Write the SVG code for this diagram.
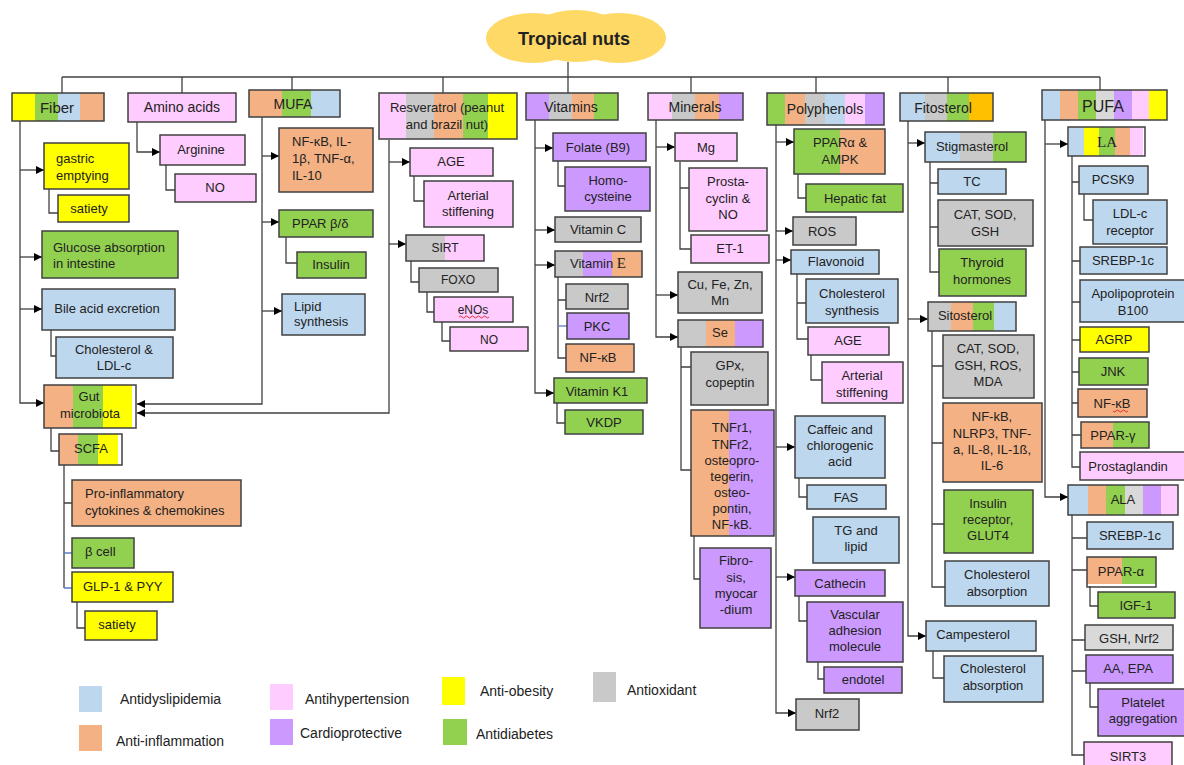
<svg xmlns="http://www.w3.org/2000/svg" width="1184" height="765" viewBox="0 0 1184 765">
<style>
text{font-family:"Liberation Sans",Arial,sans-serif;font-size:13px;fill:#222}
.c{text-anchor:middle}
.cat{font-size:14px}
.sm{font-size:12px}
.lg{font-size:14px}
.bx{stroke:#404040;stroke-width:1.5}
.fr{fill:none;stroke:#404040;stroke-width:1.5}
.B{fill:#BDD7EE}.O{fill:#F4B183}.P{fill:#FFCCFF}.V{fill:#CC99FF}.Y{fill:#FFFF00}.G{fill:#92D050}.X{fill:#C9C9C9}.K{fill:#FFC000}.L{fill:#D9D9D9}
.cn path{fill:none;stroke:#404040;stroke-width:1.3}
.cn path.a{marker-end:url(#ah)}
.cn path.bl{stroke:#5B7FC7}
.sq{fill:none;stroke:#E02020;stroke-width:0.9}
</style>
<defs>
<marker id="ah" viewBox="0 0 10 10" refX="10" refY="5" markerWidth="9" markerHeight="8" markerUnits="userSpaceOnUse" orient="auto"><path d="M0 0L10 5L0 10z" fill="#000"/></marker>
</defs>
<rect width="1184" height="765" fill="#fff"/>

<g id="root">
<ellipse cx="533" cy="38" rx="47" ry="25" fill="#FFD966"/>
<ellipse cx="619" cy="38" rx="47" ry="25" fill="#FFD966"/>
<ellipse cx="576" cy="36" rx="48" ry="26" fill="#FFD966"/>
<text x="574" y="45" class="c" style="font-size:18px;font-weight:bold">Tropical nuts</text>
</g>

<g id="connectors" class="cn">
<path d="M568 62V93"/>
<path d="M62 77H1100"/>
<path d="M62 77V93M182 77V93M292 77V90M443 77V93M691 77V93M816 77V93M948 77V93M1100 77V90"/>
<path class="a" d="M20 121V403H44"/>
<path class="a" d="M20 170H44"/>
<path class="a" d="M20 257H42"/>
<path class="a" d="M20 309H42"/>
<path d="M49 189V213H58"/>
<path d="M51 330V356H56"/>
<path d="M51 428V451H59"/>
<path d="M64 465V588M64 503H72"/>
<path class="bl" d="M64 553H72M64 588H72"/>
<path d="M77 602V628H85"/>
<path class="a" d="M262 117V404H137"/>
<path class="a" d="M262 156H279"/>
<path class="a" d="M262 222H279"/>
<path class="a" d="M262 311H282"/>
<path class="a" d="M389 140V413H137"/>
<path class="a" d="M389 162H410"/>
<path class="a" d="M389 244H406"/>
<path class="a" d="M137 122V152H160"/>
<path d="M166 165V190H175"/>
<path d="M286 237V263H297"/>
<path d="M414 176V201H424"/>
<path d="M411 261V282H419"/>
<path d="M427 292V312H434"/>
<path d="M442 322V341H450"/>
<path class="a" d="M535 120V393H554"/>
<path class="a" d="M535 148H553"/>
<path class="a" d="M535 230H555"/>
<path class="a" d="M535 265H555"/>
<path d="M558 161V186H565"/>
<path d="M558 277V358H566M558 300H566"/>
<path class="bl" d="M558 326H567"/>
<path d="M557 403V423H565"/>
<path class="a" d="M656 120V337H678"/>
<path class="a" d="M656 147H675"/>
<path class="a" d="M656 295H678"/>
<path d="M680 162V249H691M680 188H689"/>
<path d="M681 347V470H691M681 367H691"/>
<path d="M694 536V579H700"/>
<path class="a" d="M776 125V713H796"/>
<path class="a" d="M776 142H794"/>
<path class="a" d="M776 231H793"/>
<path class="a" d="M776 260H791"/>
<path class="a" d="M776 447H795"/>
<path class="a" d="M776 577H795"/>
<path d="M798 174V198H806"/>
<path d="M797 274V339H808M797 303H806"/>
<path d="M811 355V380H822"/>
<path d="M799 478V497H807"/>
<path d="M799 596V621H807"/>
<path d="M818 662V679H824"/>
<path class="a" d="M908 121V636H926"/>
<path class="a" d="M908 143H925"/>
<path class="a" d="M908 319H928"/>
<path d="M930 162V272H939M930 183H938M930 227H938"/>
<path d="M932 331V587H945M932 366H943M932 443H943M932 524H944"/>
<path d="M933 651V678H944"/>
<path class="a" d="M1045 120V497H1068"/>
<path class="a" d="M1045 144H1068"/>
<path d="M1072 156V467H1080M1072 182H1079M1072 261H1080M1072 302H1080M1072 340H1080M1072 372H1079M1072 403H1078M1072 435H1081"/>
<path d="M1084 194V220H1093"/>
<path d="M1072 515V755H1084M1072 538H1087M1072 570H1087M1072 640H1085M1072 671H1086"/>
<path d="M1090 586V606H1098"/>
<path d="M1090 683V707H1098"/>
</g>

<!-- Fiber -->
<g id="fiber"><rect x="12" y="93" width="23" height="28" class="Y"/><rect x="35" y="93" width="23" height="28" class="G"/><rect x="58" y="93" width="22" height="28" class="B"/><rect x="80" y="93" width="24" height="28" class="O"/><rect x="12" y="93" width="92" height="28" class="fr"/><text x="57" y="113" class="c" style="font-size:15px">Fiber</text></g>
<g id="gastric"><rect x="44" y="143" width="85" height="46" class="bx Y"/><text x="56" y="163">gastric</text><text x="56" y="180">emptying</text></g>
<g id="satiety1"><rect x="58" y="195" width="71" height="27" class="bx Y"/><text x="89" y="213" class="c">satiety</text></g>
<g id="glucose"><rect x="42" y="231" width="136" height="47" class="bx G"/><text x="53" y="252">Glucose absorption</text><text x="53" y="268">in intestine</text></g>
<g id="bile"><rect x="42" y="289" width="133" height="41" class="bx B"/><text x="107" y="313" class="c">Bile acid excretion</text></g>
<g id="chol-ldl"><rect x="56" y="337" width="117" height="41" class="bx B"/><text x="114" y="354" class="c">Cholesterol &amp;</text><text x="114" y="370" class="c">LDL-c</text></g>
<g id="gut"><rect x="44" y="385" width="29" height="43" class="O"/><rect x="73" y="385" width="30" height="43" class="G"/><rect x="103" y="385" width="29" height="43" class="Y"/><rect x="44" y="385" width="92" height="43" class="fr"/><text x="89" y="401" class="c">Gut</text><text x="90" y="418" class="c">microbiota</text></g>
<g id="scfa"><rect x="59" y="434" width="19" height="31" class="O"/><rect x="78" y="434" width="20" height="31" class="G"/><rect x="98" y="434" width="20" height="31" class="Y"/><rect x="59" y="434" width="63" height="31" class="fr"/><text x="91" y="453" class="c">SCFA</text></g>
<g id="proinfl"><rect x="72" y="480" width="169" height="46" class="bx O"/><text x="85" y="498">Pro-inflammatory</text><text x="85" y="515">cytokines &amp; chemokines</text></g>
<g id="bcell"><rect x="72" y="538" width="62" height="30" class="bx G"/><text x="85" y="556">β cell</text></g>
<g id="glp"><rect x="72" y="572" width="101" height="30" class="bx Y"/><text x="83" y="591">GLP-1 &amp; PYY</text></g>
<g id="satiety2"><rect x="85" y="611" width="72" height="29" class="bx Y"/><text x="117" y="629" class="c">satiety</text></g>

<!-- Amino acids -->
<g id="amino"><rect x="128" y="93" width="108" height="29" class="bx P"/><text x="182" y="112" class="c cat">Amino acids</text></g>
<g id="arginine"><rect x="160" y="135" width="85" height="30" class="bx P"/><text x="201" y="154" class="c">Arginine</text></g>
<g id="no1"><rect x="175" y="174" width="81" height="28" class="bx P"/><text x="215" y="192" class="c">NO</text></g>

<!-- MUFA -->
<g id="mufa"><rect x="249" y="90" width="33" height="27" class="O"/><rect x="282" y="90" width="29" height="27" class="G"/><rect x="311" y="90" width="29" height="27" class="B"/><rect x="249" y="90" width="91" height="27" class="fr"/><text x="293" y="109" class="c cat">MUFA</text></g>
<g id="nfkb1"><rect x="279" y="128" width="94" height="64" class="bx O"/><text x="292" y="146">NF-κB, IL-</text><text x="292" y="163">1β, TNF-α,</text><text x="292" y="180">IL-10</text></g>
<g id="pparbd"><rect x="279" y="210" width="94" height="27" class="bx G"/><text x="292" y="228">PPAR β/δ</text></g>
<g id="insulin1"><rect x="297" y="252" width="69" height="26" class="bx G"/><text x="331" y="269" class="c">Insulin</text></g>
<g id="lipid"><rect x="282" y="294" width="83" height="41" class="bx B"/><text x="294" y="311">Lipid</text><text x="294" y="326">synthesis</text></g>

<!-- Resveratrol -->
<g id="resveratrol"><rect x="379" y="93" width="27" height="46" class="P"/><rect x="406" y="93" width="28" height="46" class="X"/><rect x="434" y="93" width="29" height="46" class="O"/><rect x="463" y="93" width="25" height="46" class="G"/><rect x="488" y="93" width="29" height="46" class="Y"/><rect x="379" y="93" width="138" height="46" class="fr"/><text x="447" y="112" class="c">Resveratrol (peanut</text><text x="447" y="129" class="c">and brazil nut)</text></g>
<g id="age1"><rect x="410" y="148" width="83" height="28" class="bx P"/><text x="451" y="166" class="c">AGE</text></g>
<g id="arterial1"><rect x="424" y="181" width="89" height="46" class="bx P"/><text x="468" y="200" class="c">Arterial</text><text x="468" y="216" class="c">stiffening</text></g>
<g id="sirt"><rect x="406" y="235" width="39" height="26" class="X"/><rect x="445" y="235" width="39" height="26" class="P"/><rect x="406" y="235" width="78" height="26" class="fr"/><text x="445" y="252" class="c sm">SIRT</text></g>
<g id="foxo"><rect x="419" y="268" width="79" height="24" class="bx X"/><text x="458" y="284" class="c sm">FOXO</text></g>
<g id="enos"><rect x="434" y="297" width="79" height="25" class="bx P"/><text x="473" y="314" class="c sm">eNOs</text><path class="sq" d="M459 317q1.5 -2 3 0t3 0t3 0t3 0t3 0t3 0t3 0t3 0t3 0t3 0"/></g>
<g id="no2"><rect x="450" y="327" width="78" height="24" class="bx P"/><text x="489" y="344" class="c sm">NO</text></g>

<!-- Vitamins -->
<g id="vitamins"><rect x="526" y="93" width="23" height="27" class="V"/><rect x="549" y="93" width="23" height="27" class="X"/><rect x="572" y="93" width="22" height="27" class="O"/><rect x="594" y="93" width="24" height="27" class="G"/><rect x="526" y="93" width="92" height="27" class="fr"/><text x="571" y="112" class="c cat">Vitamins</text></g>
<g id="folate"><rect x="553" y="133" width="93" height="28" class="bx V"/><text x="598" y="152" class="c">Folate (B9)</text></g>
<g id="homocysteine"><rect x="565" y="167" width="85" height="44" class="bx V"/><text x="608" y="185" class="c">Homo-</text><text x="608" y="201" class="c">cysteine</text></g>
<g id="vitc"><rect x="555" y="217" width="86" height="25" class="bx X"/><text x="598" y="234" class="c">Vitamin C</text></g>
<g id="vite"><rect x="555" y="251" width="28" height="26" class="X"/><rect x="583" y="251" width="29" height="26" class="V"/><rect x="612" y="251" width="30" height="26" class="O"/><rect x="555" y="251" width="87" height="26" class="fr"/><text x="598" y="268" class="c">Vitamin <tspan style="font-family:'Liberation Serif',serif;font-size:15px">E</tspan></text></g>
<g id="nrf2a"><rect x="566" y="284" width="62" height="25" class="bx X"/><text x="597" y="302" class="c">Nrf2</text></g>
<g id="pkc"><rect x="567" y="313" width="62" height="26" class="bx V"/><text x="597" y="331" class="c">PKC</text></g>
<g id="nfkb2"><rect x="566" y="344" width="68" height="28" class="bx O"/><text x="598" y="362" class="c">NF-κB</text></g>
<g id="vitk"><rect x="554" y="378" width="93" height="25" class="bx G"/><text x="597" y="396" class="c">Vitamin K1</text></g>
<g id="vkdp"><rect x="565" y="410" width="78" height="24" class="bx G"/><text x="604" y="427" class="c">VKDP</text></g>

<!-- Minerals -->
<g id="minerals"><rect x="648" y="93" width="24" height="27" class="P"/><rect x="672" y="93" width="23" height="27" class="X"/><rect x="695" y="93" width="24" height="27" class="O"/><rect x="719" y="93" width="24" height="27" class="V"/><rect x="648" y="93" width="95" height="27" class="fr"/><text x="695" y="112" class="c cat">Minerals</text></g>
<g id="mg"><rect x="675" y="133" width="62" height="28" class="bx P"/><text x="706" y="152" class="c">Mg</text></g>
<g id="prostacyclin"><rect x="689" y="168" width="78" height="63" class="bx P"/><text x="728" y="186" class="c">Prosta-</text><text x="728" y="203" class="c">cyclin &amp;</text><text x="728" y="219" class="c">NO</text></g>
<g id="et1"><rect x="691" y="235" width="78" height="28" class="bx P"/><text x="730" y="253" class="c">ET-1</text></g>
<g id="cufe"><rect x="678" y="272" width="84" height="41" class="bx X"/><text x="720" y="289" class="c">Cu, Fe, Zn,</text><text x="720" y="305" class="c">Mn</text></g>
<g id="se"><rect x="678" y="320" width="28" height="27" class="X"/><rect x="706" y="320" width="29" height="27" class="O"/><rect x="735" y="320" width="28" height="27" class="V"/><rect x="678" y="320" width="85" height="27" class="fr"/><text x="720" y="337" class="c">Se</text></g>
<g id="gpx"><rect x="691" y="352" width="77" height="53" class="bx X"/><text x="730" y="370" class="c">GPx,</text><text x="730" y="387" class="c">copeptin</text></g>
<g id="tnfr"><rect x="691" y="410" width="38" height="126" class="O"/><rect x="729" y="410" width="45" height="126" class="V"/><rect x="691" y="410" width="83" height="126" class="fr"/><text x="732" y="432" class="c">TNFr1,</text><text x="732" y="449" class="c">TNFr2,</text><text x="732" y="465" class="c">osteopro-</text><text x="732" y="481" class="c">tegerin,</text><text x="732" y="497" class="c">osteo-</text><text x="732" y="513" class="c">pontin,</text><text x="732" y="529" class="c">NF-kB.</text></g>
<g id="fibrosis"><rect x="700" y="548" width="71" height="80" class="bx V"/><text x="736" y="565" class="c">Fibro-</text><text x="736" y="582" class="c">sis,</text><text x="736" y="598" class="c">myocar</text><text x="736" y="614" class="c">-dium</text></g>

<!-- Polyphenols -->
<g id="polyphenols"><rect x="767" y="93" width="18" height="32" class="G"/><rect x="785" y="93" width="20" height="32" class="O"/><rect x="805" y="93" width="20" height="32" class="X"/><rect x="825" y="93" width="20" height="32" class="B"/><rect x="845" y="93" width="20" height="32" class="P"/><rect x="865" y="93" width="19" height="32" class="V"/><rect x="767" y="93" width="117" height="32" class="fr"/><text x="825" y="114" class="c cat">Polyphenols</text></g>
<g id="ppara-ampk"><rect x="794" y="129" width="46" height="45" class="G"/><rect x="840" y="129" width="45" height="45" class="O"/><rect x="794" y="129" width="91" height="45" class="fr"/><text x="840" y="147" class="c">PPARα &amp;</text><text x="840" y="164" class="c">AMPK</text></g>
<g id="hepatic"><rect x="806" y="184" width="97" height="28" class="bx G"/><text x="855" y="203" class="c">Hepatic fat</text></g>
<g id="ros"><rect x="793" y="217" width="63" height="28" class="bx X"/><text x="822" y="236" class="c">ROS</text></g>
<g id="flavonoid"><rect x="791" y="250" width="88" height="24" class="bx B"/><text x="836" y="266" class="c">Flavonoid</text></g>
<g id="cholsyn"><rect x="806" y="279" width="92" height="44" class="bx B"/><text x="852" y="298" class="c">Cholesterol</text><text x="852" y="315" class="c">synthesis</text></g>
<g id="age2"><rect x="808" y="327" width="81" height="28" class="bx P"/><text x="848" y="345" class="c">AGE</text></g>
<g id="arterial2"><rect x="822" y="362" width="81" height="41" class="bx P"/><text x="862" y="380" class="c">Arterial</text><text x="862" y="397" class="c">stiffening</text></g>
<g id="caffeic"><rect x="795" y="416" width="90" height="62" class="bx B"/><text x="840" y="434" class="c">Caffeic and</text><text x="840" y="450" class="c">chlorogenic</text><text x="840" y="466" class="c">acid</text></g>
<g id="fas"><rect x="807" y="485" width="79" height="24" class="bx B"/><text x="846" y="502" class="c">FAS</text></g>
<g id="tg"><rect x="813" y="517" width="86" height="46" class="bx B"/><text x="856" y="535" class="c">TG and</text><text x="856" y="551" class="c">lipid</text></g>
<g id="cathecin"><rect x="795" y="570" width="90" height="26" class="bx V"/><text x="840" y="588" class="c">Cathecin</text></g>
<g id="vascular"><rect x="807" y="602" width="96" height="60" class="bx V"/><text x="855" y="619" class="c">Vascular</text><text x="855" y="635" class="c">adhesion</text><text x="855" y="651" class="c">molecule</text></g>
<g id="endotel"><rect x="824" y="667" width="78" height="26" class="bx V"/><text x="863" y="684" class="c">endotel</text></g>
<g id="nrf2b"><rect x="796" y="699" width="63" height="31" class="bx X"/><text x="827" y="718" class="c">Nrf2</text></g>

<!-- Fitosterol -->
<g id="fitosterol"><rect x="900" y="93" width="25" height="28" class="B"/><rect x="925" y="93" width="22" height="28" class="X"/><rect x="947" y="93" width="22" height="28" class="G"/><rect x="969" y="93" width="24" height="28" class="K"/><rect x="900" y="93" width="93" height="28" class="fr"/><text x="943" y="113" class="c cat">Fitosterol</text></g>
<g id="stigmasterol"><rect x="925" y="132" width="35" height="30" class="B"/><rect x="960" y="132" width="33" height="30" class="X"/><rect x="993" y="132" width="33" height="30" class="G"/><rect x="925" y="132" width="101" height="30" class="fr"/><text x="972" y="151" class="c">Stigmasterol</text></g>
<g id="tc"><rect x="938" y="169" width="68" height="25" class="bx B"/><text x="972" y="186" class="c">TC</text></g>
<g id="cat1"><rect x="938" y="200" width="95" height="46" class="bx X"/><text x="985" y="219" class="c">CAT, SOD,</text><text x="985" y="236" class="c">GSH</text></g>
<g id="thyroid"><rect x="939" y="249" width="87" height="47" class="bx G"/><text x="982" y="267" class="c">Thyroid</text><text x="982" y="284" class="c">hormones</text></g>
<g id="sitosterol"><rect x="928" y="302" width="23" height="29" class="X"/><rect x="951" y="302" width="22" height="29" class="O"/><rect x="973" y="302" width="21" height="29" class="G"/><rect x="994" y="302" width="22" height="29" class="B"/><rect x="928" y="302" width="88" height="29" class="fr"/><text x="965" y="320" class="c">Sitosterol</text></g>
<g id="cat2"><rect x="943" y="335" width="91" height="63" class="bx X"/><text x="988" y="353" class="c">CAT, SOD,</text><text x="988" y="370" class="c">GSH, ROS,</text><text x="988" y="386" class="c">MDA</text></g>
<g id="nfkb3"><rect x="943" y="403" width="99" height="79" class="bx O"/><text x="992" y="421" class="c">NF-kB,</text><text x="992" y="438" class="c">NLRP3, TNF-</text><text x="992" y="454" class="c">a, IL-8, IL-1ß,</text><text x="992" y="470" class="c">IL-6</text></g>
<g id="insrec"><rect x="944" y="490" width="89" height="63" class="bx G"/><text x="988" y="508" class="c">Insulin</text><text x="988" y="524" class="c">receptor,</text><text x="988" y="540" class="c">GLUT4</text></g>
<g id="cholabs1"><rect x="945" y="561" width="104" height="45" class="bx B"/><text x="997" y="579" class="c">Cholesterol</text><text x="997" y="596" class="c">absorption</text></g>
<g id="campesterol"><rect x="926" y="621" width="110" height="30" class="bx B"/><text x="973" y="639" class="c">Campesterol</text></g>
<g id="cholabs2"><rect x="944" y="656" width="99" height="46" class="bx B"/><text x="993" y="673" class="c">Cholesterol</text><text x="993" y="690" class="c">absorption</text></g>

<!-- PUFA -->
<g id="pufa"><rect x="1042" y="90" width="18" height="30" class="B"/><rect x="1060" y="90" width="18" height="30" class="O"/><rect x="1078" y="90" width="18" height="30" class="G"/><rect x="1096" y="90" width="18" height="30" class="L"/><rect x="1114" y="90" width="18" height="30" class="V"/><rect x="1132" y="90" width="17" height="30" class="P"/><rect x="1149" y="90" width="18" height="30" class="Y"/><rect x="1042" y="90" width="125" height="30" class="fr"/><text x="1103" y="112" class="c" style="font-size:16px">PUFA</text></g>
<g id="la"><rect x="1069" y="127" width="15" height="29" class="B"/><rect x="1084" y="127" width="15" height="29" class="Y"/><rect x="1099" y="127" width="16" height="29" class="G"/><rect x="1115" y="127" width="15" height="29" class="O"/><rect x="1130" y="127" width="13" height="29" class="P"/><rect x="1068" y="127" width="77" height="29" class="fr"/><text x="1107" y="147" class="c" style="font-family:'Liberation Serif',serif;font-size:15px">LA</text></g>
<g id="pcsk9"><rect x="1079" y="166" width="69" height="28" class="bx B"/><text x="1113" y="184" class="c">PCSK9</text></g>
<g id="ldlr"><rect x="1093" y="200" width="74" height="44" class="bx B"/><text x="1130" y="218" class="c">LDL-c</text><text x="1130" y="235" class="c">receptor</text></g>
<g id="srebp1"><rect x="1080" y="247" width="87" height="27" class="bx B"/><text x="1123" y="265" class="c">SREBP-1c</text></g>
<g id="apob"><rect x="1080" y="280" width="106" height="42" class="bx B"/><text x="1133" y="298" class="c">Apolipoprotein</text><text x="1133" y="315" class="c">B100</text></g>
<g id="agrp"><rect x="1080" y="327" width="69" height="25" class="bx Y"/><text x="1114" y="344" class="c">AGRP</text></g>
<g id="jnk"><rect x="1079" y="358" width="69" height="27" class="bx G"/><text x="1113" y="376" class="c">JNK</text></g>
<g id="nfkb4"><rect x="1078" y="389" width="69" height="28" class="bx O"/><text x="1112" y="408" class="c">NF-κB</text><path class="sq" d="M1113 411q1.5 2 3 0t3 0t3 0t3 0t3 0"/></g>
<g id="pparg"><rect x="1081" y="422" width="32" height="26" class="O"/><rect x="1113" y="422" width="36" height="26" class="G"/><rect x="1081" y="422" width="68" height="26" class="fr"/><text x="1113" y="440" class="c">PPAR-γ</text></g>
<g id="prostaglandin"><rect x="1080" y="452" width="106" height="28" class="bx P"/><text x="1128" y="471" class="c">Prostaglandin</text></g>
<g id="ala"><rect x="1068" y="485" width="20" height="30" class="B"/><rect x="1088" y="485" width="18" height="30" class="O"/><rect x="1106" y="485" width="19" height="30" class="G"/><rect x="1125" y="485" width="18" height="30" class="L"/><rect x="1143" y="485" width="18" height="30" class="V"/><rect x="1161" y="485" width="17" height="30" class="P"/><rect x="1068" y="485" width="110" height="30" class="fr"/><text x="1123" y="504" class="c">ALA</text></g>
<g id="srebp2"><rect x="1087" y="522" width="86" height="27" class="bx B"/><text x="1130" y="540" class="c">SREBP-1c</text></g>
<g id="ppara2"><rect x="1087" y="557" width="35" height="27" class="O"/><rect x="1122" y="557" width="34" height="27" class="G"/><rect x="1087" y="557" width="69" height="30" class="fr"/><text x="1121" y="576" class="c">PPAR-α</text></g>
<g id="igf1"><rect x="1098" y="592" width="77" height="26" class="bx G"/><text x="1136" y="610" class="c">IGF-1</text></g>
<g id="gsh"><rect x="1085" y="625" width="88" height="25" class="bx L"/><text x="1129" y="643" class="c">GSH, Nrf2</text></g>
<g id="aaepa"><rect x="1086" y="655" width="87" height="28" class="bx V"/><text x="1128" y="673" class="c">AA, EPA</text></g>
<g id="platelet"><rect x="1098" y="689" width="88" height="47" class="bx V"/><text x="1143" y="707" class="c">Platelet</text><text x="1143" y="723" class="c">aggregation</text></g>
<g id="sirt3"><rect x="1084" y="742" width="88" height="30" class="bx P"/><text x="1128" y="761" class="c">SIRT3</text></g>

<!-- Legend -->
<g id="legend">
<rect x="79" y="686" width="23" height="26" class="B"/><text x="120" y="704" class="lg">Antidyslipidemia</text>
<rect x="79" y="725" width="23" height="26" class="O"/><text x="116" y="746" class="lg">Anti-inflammation</text>
<rect x="270" y="684" width="23" height="26" class="P"/><text x="305" y="704" class="lg">Antihypertension</text>
<rect x="270" y="719" width="23" height="26" class="V"/><text x="300" y="738" class="lg">Cardioprotective</text>
<rect x="442" y="677" width="23" height="28" class="Y"/><text x="480" y="696" class="lg">Anti-obesity</text>
<rect x="443" y="719" width="24" height="26" class="G"/><text x="476" y="739" class="lg">Antidiabetes</text>
<rect x="593" y="672" width="23" height="30" class="X"/><text x="627" y="695" class="lg">Antioxidant</text>
</g>
</svg>
